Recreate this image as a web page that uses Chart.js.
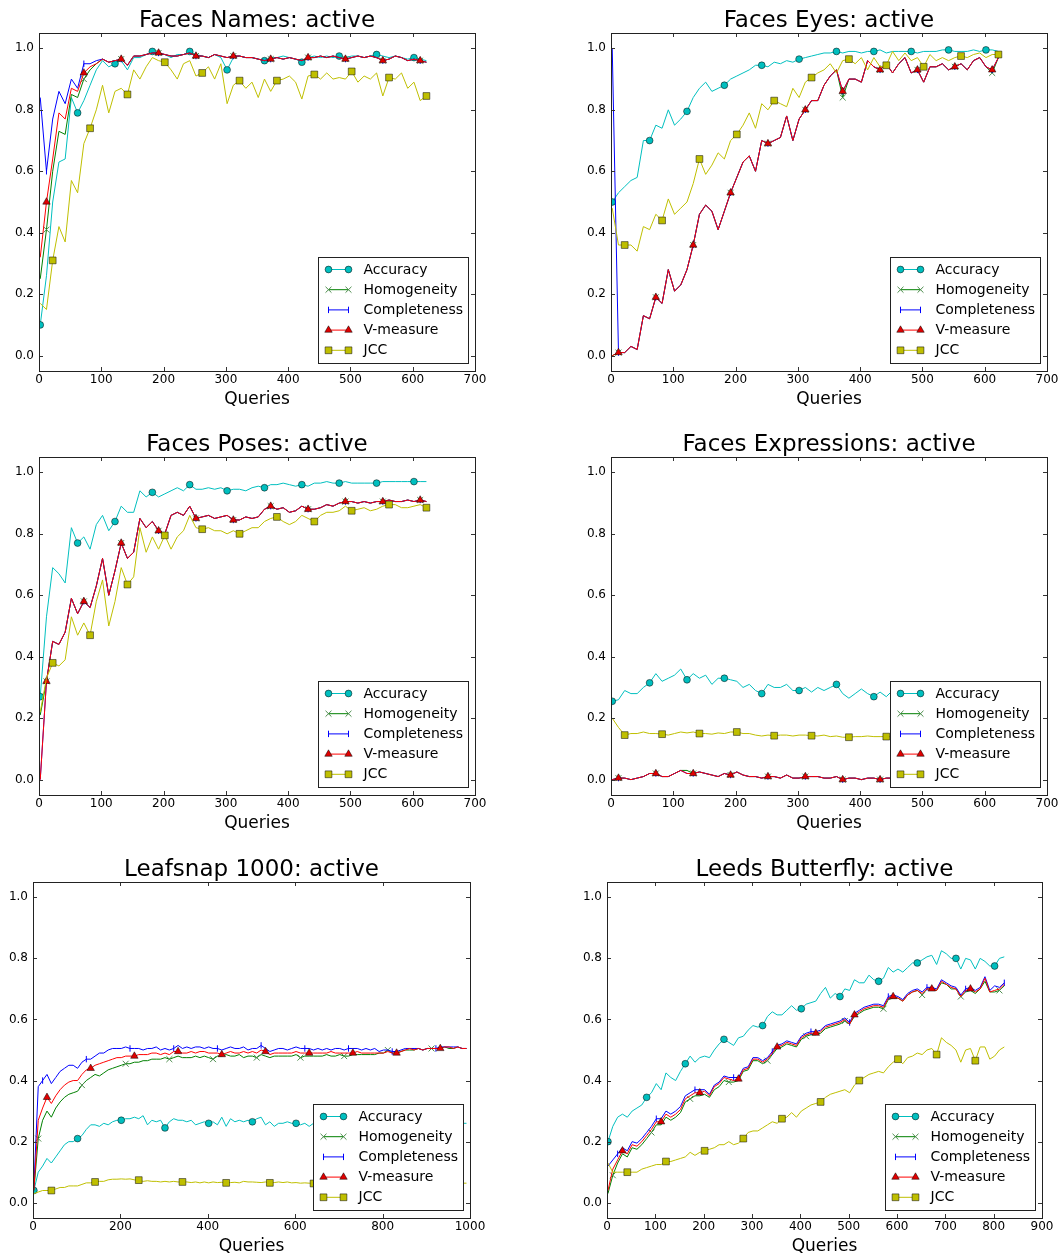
<!DOCTYPE html>
<html>
<head>
<meta charset="utf-8">
<script src="https://cdn.jsdelivr.net/npm/chart.js@4.4.0/dist/chart.umd.min.js"></script>
<style>
html,body{margin:0;padding:0;background:#fff;overflow:hidden;width:1061px;height:1260px;}
canvas{position:absolute;}
</style>
</head>
<body>
<canvas id="c1"></canvas>
<canvas id="c2"></canvas>
<canvas id="c3"></canvas>
<canvas id="c4"></canvas>
<canvas id="c5"></canvas>
<canvas id="c6"></canvas>
<script>
// ---------- categories / ticks ----------
const SERIES_NAMES = ['Accuracy', 'Homogeneity', 'Completeness', 'V-measure', 'JCC'];
const Y_TICKS = [0.0, 0.2, 0.4, 0.6, 0.8, 1.0];
const X_TICKS_700 = [0, 100, 200, 300, 400, 500, 600, 700];
const X_TICKS_1000 = [0, 200, 400, 600, 800, 1000];
const X_TICKS_900 = [0, 100, 200, 300, 400, 500, 600, 700, 800, 900];

// queries (x values)
const Q_FACES = [2,12,22,32,42,52,62,72,82,92,102,112,122,132,142,152,162,172,182,192,
  202,212,222,232,242,252,262,272,282,292,302,312,322,332,342,352,362,372,382,392,
  402,412,422,432,442,452,462,472,482,492,502,512,522,532,542,552,562,572,582,592,
  602,612,622];
const Q_LEAF = [2,12,22,32,42,52,62,72,82,92,102,112,122,132,142,152,162,172,182,192,
  202,212,222,232,242,252,262,272,282,292,302,312,322,332,342,352,362,372,382,392,
  402,412,422,432,442,452,462,472,482,492,502,512,522,532,542,552,562,572,582,592,
  602,612,622,632,642,652,662,672,682,692,702,712,722,732,742,752,762,772,782,792,
  802,812,822,832,842,852,862,872,882,892,902,912,922,932,942,952,962,972,982,992];
const Q_BUTTERFLY = [2,12,22,32,42,52,62,72,82,92,102,112,122,132,142,152,162,172,182,192,
  202,212,222,232,242,252,262,272,282,292,302,312,322,332,342,352,362,372,382,392,
  402,412,422,432,442,452,462,472,482,492,502,512,522,532,542,552,562,572,582,592,
  602,612,622,632,642,652,662,672,682,692,702,712,722,732,742,752,762,772,782,792,
  802,812,822];

// ---------- Faces Names ----------
const namesAcc = [0.10,0.26,0.50,0.63,0.64,0.84,0.79,0.83,0.88,0.93,
  0.96,0.94,0.95,0.96,0.93,0.97,0.97,0.98,0.99,0.98,
  0.98,0.97,0.98,0.98,0.99,0.98,0.975,0.97,0.98,0.97,
  0.93,0.97,0.975,0.97,0.97,0.965,0.96,0.97,0.97,0.975,
  0.97,0.965,0.955,0.97,0.975,0.97,0.975,0.97,0.975,0.97,
  0.975,0.975,0.97,0.975,0.98,0.975,0.97,0.975,0.97,0.965,
  0.97,0.965,0.96];
const namesHom = [0.25,0.41,0.60,0.73,0.72,0.85,0.84,0.90,0.93,0.95,
  0.965,0.955,0.96,0.965,0.945,0.975,0.975,0.98,0.985,0.985,
  0.98,0.975,0.975,0.98,0.985,0.975,0.975,0.97,0.98,0.975,
  0.97,0.975,0.975,0.97,0.97,0.965,0.96,0.965,0.97,0.965,
  0.97,0.965,0.96,0.97,0.97,0.975,0.97,0.975,0.97,0.965,
  0.97,0.975,0.97,0.975,0.97,0.96,0.965,0.975,0.97,0.96,
  0.965,0.96,0.955];
const namesCom = [0.84,0.60,0.77,0.86,0.82,0.90,0.87,0.95,0.95,0.96,
  0.965,0.955,0.96,0.965,0.945,0.975,0.975,0.98,0.985,0.985,
  0.98,0.975,0.975,0.98,0.985,0.975,0.975,0.97,0.98,0.975,
  0.97,0.975,0.975,0.97,0.97,0.965,0.96,0.965,0.97,0.965,
  0.97,0.965,0.96,0.97,0.97,0.975,0.97,0.975,0.97,0.965,
  0.97,0.975,0.97,0.975,0.97,0.96,0.965,0.975,0.97,0.96,
  0.965,0.96,0.955];
const namesVm = [0.32,0.50,0.64,0.79,0.77,0.87,0.86,0.92,0.94,0.95,
  0.965,0.955,0.96,0.965,0.945,0.975,0.975,0.98,0.985,0.985,
  0.98,0.975,0.975,0.98,0.985,0.975,0.975,0.97,0.98,0.975,
  0.97,0.975,0.975,0.97,0.97,0.965,0.96,0.965,0.97,0.965,
  0.97,0.965,0.96,0.97,0.97,0.975,0.97,0.975,0.97,0.965,
  0.97,0.975,0.97,0.975,0.97,0.96,0.965,0.975,0.97,0.96,
  0.965,0.96,0.955];
const namesJcc = [0.17,0.15,0.31,0.42,0.37,0.57,0.53,0.69,0.74,0.80,
  0.88,0.79,0.86,0.87,0.85,0.93,0.90,0.94,0.97,0.96,
  0.955,0.93,0.90,0.95,0.96,0.91,0.92,0.94,0.90,0.95,
  0.82,0.88,0.895,0.87,0.89,0.84,0.90,0.86,0.895,0.90,
  0.91,0.89,0.835,0.91,0.915,0.90,0.92,0.90,0.905,0.90,
  0.925,0.89,0.91,0.90,0.92,0.845,0.905,0.90,0.92,0.87,
  0.89,0.83,0.845];

// ---------- Faces Eyes ----------
const eyesAcc = [0.50,0.53,0.55,0.57,0.58,0.70,0.70,0.75,0.74,0.80,
  0.75,0.77,0.795,0.84,0.87,0.89,0.86,0.87,0.88,0.90,
  0.91,0.92,0.93,0.945,0.945,0.94,0.955,0.95,0.96,0.955,
  0.965,0.97,0.975,0.98,0.985,0.985,0.99,0.985,0.99,0.99,
  0.985,0.99,0.99,0.995,0.985,0.99,0.99,0.99,0.99,0.985,
  0.99,0.99,0.99,0.995,0.995,0.99,0.99,0.99,0.995,0.99,
  0.995,0.995,0.99];
const eyesHom = [0.00,0.01,0.01,0.03,0.02,0.13,0.12,0.19,0.17,0.28,
  0.21,0.23,0.28,0.36,0.46,0.49,0.47,0.41,0.47,0.53,
  0.58,0.63,0.65,0.60,0.70,0.69,0.70,0.71,0.78,0.70,
  0.77,0.80,0.83,0.83,0.88,0.91,0.93,0.84,0.90,0.90,
  0.89,0.96,0.94,0.93,0.95,0.92,0.95,0.97,0.92,0.93,
  0.89,0.94,0.94,0.95,0.93,0.94,0.95,0.93,0.96,0.97,
  0.94,0.92,0.97];
const eyesCom = [1.00,0.01,0.01,0.03,0.02,0.13,0.12,0.19,0.17,0.28,
  0.21,0.23,0.28,0.36,0.46,0.49,0.47,0.41,0.47,0.53,
  0.58,0.63,0.65,0.60,0.70,0.69,0.70,0.71,0.78,0.70,
  0.77,0.80,0.83,0.83,0.88,0.91,0.93,0.86,0.90,0.90,
  0.89,0.96,0.94,0.93,0.95,0.92,0.95,0.97,0.92,0.93,
  0.89,0.94,0.94,0.95,0.93,0.94,0.95,0.93,0.96,0.97,
  0.94,0.93,0.97];
const eyesVm = [0.00,0.01,0.01,0.03,0.02,0.13,0.12,0.19,0.17,0.28,
  0.21,0.23,0.28,0.36,0.46,0.49,0.47,0.41,0.47,0.53,
  0.58,0.63,0.65,0.60,0.70,0.69,0.70,0.71,0.78,0.70,
  0.77,0.80,0.83,0.83,0.88,0.91,0.93,0.86,0.90,0.90,
  0.89,0.96,0.94,0.93,0.95,0.92,0.95,0.97,0.92,0.93,
  0.89,0.94,0.94,0.95,0.93,0.94,0.95,0.93,0.96,0.97,
  0.94,0.93,0.97];
const eyesJcc = [0.48,0.36,0.36,0.36,0.34,0.42,0.41,0.46,0.44,0.51,
  0.46,0.48,0.50,0.56,0.64,0.59,0.62,0.66,0.64,0.70,
  0.72,0.75,0.79,0.74,0.82,0.80,0.83,0.82,0.81,0.87,
  0.84,0.89,0.905,0.92,0.93,0.95,0.92,0.96,0.965,0.95,
  0.97,0.93,0.97,0.94,0.945,0.99,0.96,0.985,0.96,0.97,
  0.94,0.98,0.96,0.97,0.96,0.97,0.975,0.97,0.98,0.985,
  0.97,0.98,0.98];

// ---------- Faces Poses ----------
const posesAcc = [0.27,0.53,0.69,0.67,0.64,0.82,0.77,0.79,0.75,0.83,
  0.86,0.81,0.84,0.89,0.87,0.87,0.94,0.92,0.935,0.92,
  0.93,0.94,0.95,0.94,0.96,0.945,0.945,0.95,0.945,0.95,
  0.94,0.945,0.945,0.94,0.95,0.955,0.95,0.96,0.96,0.965,
  0.96,0.955,0.96,0.955,0.965,0.965,0.97,0.965,0.965,0.97,
  0.965,0.965,0.965,0.965,0.965,0.97,0.97,0.97,0.97,0.97,
  0.97,0.97,0.97];
const posesHom = [0.21,0.32,0.45,0.44,0.48,0.59,0.54,0.58,0.56,0.63,
  0.72,0.60,0.68,0.77,0.72,0.74,0.85,0.82,0.84,0.81,
  0.80,0.86,0.87,0.86,0.89,0.85,0.855,0.86,0.85,0.855,
  0.86,0.845,0.845,0.855,0.85,0.855,0.88,0.89,0.88,0.885,
  0.87,0.875,0.89,0.88,0.88,0.885,0.895,0.89,0.90,0.905,
  0.905,0.90,0.905,0.90,0.905,0.905,0.91,0.905,0.905,0.91,
  0.905,0.91,0.905];
const posesCom = [0.00,0.32,0.45,0.44,0.48,0.59,0.54,0.58,0.56,0.63,
  0.72,0.60,0.68,0.77,0.72,0.74,0.85,0.82,0.84,0.81,
  0.80,0.86,0.87,0.86,0.89,0.85,0.855,0.86,0.85,0.855,
  0.86,0.845,0.845,0.855,0.85,0.855,0.88,0.89,0.88,0.885,
  0.87,0.875,0.89,0.88,0.88,0.885,0.895,0.89,0.90,0.905,
  0.905,0.90,0.905,0.90,0.905,0.905,0.91,0.905,0.905,0.91,
  0.905,0.91,0.905];
const posesVm = [0.00,0.32,0.45,0.44,0.48,0.59,0.54,0.58,0.56,0.63,
  0.72,0.60,0.68,0.77,0.72,0.74,0.85,0.82,0.84,0.81,
  0.80,0.86,0.87,0.86,0.89,0.85,0.855,0.86,0.85,0.855,
  0.86,0.845,0.845,0.855,0.85,0.855,0.88,0.89,0.88,0.885,
  0.87,0.875,0.89,0.88,0.88,0.885,0.895,0.89,0.90,0.905,
  0.905,0.90,0.905,0.90,0.905,0.905,0.91,0.905,0.905,0.91,
  0.905,0.91,0.905];
const posesJcc = [0.22,0.33,0.38,0.37,0.39,0.53,0.47,0.51,0.47,0.58,
  0.65,0.50,0.58,0.69,0.635,0.66,0.82,0.74,0.79,0.75,
  0.795,0.75,0.79,0.81,0.86,0.82,0.815,0.82,0.81,0.81,
  0.80,0.81,0.80,0.81,0.82,0.82,0.84,0.85,0.855,0.84,
  0.83,0.84,0.86,0.85,0.84,0.86,0.87,0.87,0.875,0.89,
  0.875,0.88,0.885,0.875,0.88,0.89,0.895,0.895,0.885,0.885,
  0.89,0.895,0.885];

// ---------- Faces Expressions ----------
const exprAcc = [0.255,0.26,0.29,0.28,0.28,0.30,0.315,0.345,0.32,0.33,
  0.34,0.36,0.325,0.345,0.33,0.34,0.31,0.33,0.33,0.325,
  0.32,0.30,0.31,0.29,0.28,0.31,0.30,0.30,0.31,0.29,
  0.29,0.30,0.285,0.30,0.29,0.30,0.31,0.28,0.265,0.28,
  0.295,0.28,0.27,0.285,0.27,0.29,0.28,0.285,0.28,0.28,
  0.285,0.28,0.28,0.285,0.28,0.28,0.275,0.28,0.28,0.275,
  0.28,0.28,0.28];
const exprHom = [0.00,0.005,0.005,0.00,0.005,0.01,0.02,0.02,0.01,0.01,
  0.02,0.03,0.03,0.02,0.025,0.02,0.015,0.01,0.02,0.015,
  0.025,0.015,0.01,0.01,0.005,0.01,0.01,0.005,0.015,0.005,
  0.005,0.01,0.01,0.01,0.005,0.005,0.01,0.00,0.005,0.005,
  0.00,0.005,0.005,0.00,0.005,0.005,0.005,0.005,0.005,0.005,
  0.005,0.005,0.005,0.005,0.005,0.005,0.005,0.005,0.005,0.005,
  0.005,0.005,0.005];
const exprCom = [0.00,0.005,0.005,0.00,0.005,0.01,0.02,0.02,0.01,0.01,
  0.02,0.03,0.02,0.02,0.025,0.02,0.015,0.01,0.02,0.015,
  0.025,0.015,0.01,0.01,0.005,0.01,0.01,0.005,0.015,0.005,
  0.005,0.01,0.01,0.01,0.005,0.005,0.01,0.00,0.005,0.005,
  0.00,0.005,0.005,0.00,0.005,0.005,0.005,0.005,0.005,0.005,
  0.005,0.005,0.005,0.005,0.005,0.005,0.005,0.005,0.005,0.005,
  0.005,0.005,0.005];
const exprVm = [0.00,0.005,0.005,0.00,0.005,0.01,0.02,0.02,0.01,0.01,
  0.02,0.03,0.02,0.02,0.025,0.02,0.015,0.01,0.02,0.015,
  0.025,0.015,0.01,0.01,0.005,0.01,0.01,0.005,0.015,0.005,
  0.005,0.01,0.01,0.01,0.005,0.005,0.01,0.00,0.005,0.005,
  0.00,0.005,0.005,0.00,0.005,0.005,0.005,0.005,0.005,0.005,
  0.005,0.005,0.005,0.005,0.005,0.005,0.005,0.005,0.005,0.005,
  0.005,0.005,0.005];
const exprJcc = [0.20,0.17,0.145,0.15,0.15,0.155,0.15,0.15,0.148,0.145,
  0.15,0.155,0.152,0.155,0.15,0.15,0.148,0.152,0.15,0.155,
  0.155,0.15,0.15,0.145,0.142,0.145,0.143,0.145,0.145,0.142,
  0.145,0.145,0.143,0.142,0.145,0.14,0.142,0.138,0.138,0.14,
  0.14,0.142,0.14,0.14,0.14,0.14,0.14,0.14,0.14,0.14,
  0.14,0.14,0.14,0.14,0.14,0.14,0.14,0.14,0.14,0.14,
  0.14,0.14,0.14];

// ---------- Leafsnap 1000 ----------
const leafAcc = [0.04,0.10,0.12,0.145,0.13,0.15,0.17,0.19,0.20,0.20,
  0.21,0.22,0.24,0.255,0.255,0.25,0.26,0.255,0.265,0.27,
  0.27,0.275,0.275,0.28,0.275,0.285,0.255,0.27,0.265,0.27,
  0.245,0.265,0.275,0.27,0.27,0.265,0.27,0.255,0.26,0.265,
  0.26,0.265,0.255,0.28,0.25,0.275,0.265,0.27,0.265,0.27,
  0.265,0.275,0.28,0.255,0.265,0.25,0.26,0.26,0.265,0.26,
  0.26,0.255,0.26,0.25,0.26,0.26,0.255,0.26,0.26,0.255,
  0.26,0.26,0.255,0.26,0.26,0.255,0.26,0.26,0.255,0.26,
  0.26,0.255,0.26,0.26,0.255,0.26,0.26,0.255,0.26,0.26,
  0.26,0.26,0.255,0.26,0.26,0.26,0.255,0.26,0.26,0.26];
const leafHom = [0.04,0.21,0.27,0.30,0.28,0.31,0.33,0.345,0.355,0.36,
  0.365,0.385,0.40,0.41,0.42,0.415,0.425,0.435,0.44,0.445,
  0.45,0.455,0.455,0.46,0.46,0.465,0.465,0.47,0.47,0.47,
  0.475,0.47,0.475,0.48,0.475,0.475,0.475,0.48,0.475,0.48,
  0.475,0.47,0.48,0.48,0.485,0.48,0.48,0.485,0.475,0.48,
  0.48,0.475,0.485,0.48,0.475,0.48,0.48,0.48,0.48,0.48,
  0.485,0.475,0.48,0.48,0.48,0.48,0.48,0.485,0.48,0.48,
  0.485,0.48,0.48,0.485,0.485,0.485,0.485,0.485,0.485,0.49,
  0.49,0.50,0.49,0.49,0.495,0.50,0.50,0.50,0.505,0.50,
  0.505,0.505,0.505,0.505,0.51,0.505,0.505,0.51,0.505,0.505];
const leafCom = [0.05,0.38,0.40,0.42,0.39,0.41,0.43,0.44,0.45,0.45,
  0.44,0.46,0.47,0.47,0.48,0.49,0.49,0.50,0.505,0.505,
  0.505,0.51,0.505,0.505,0.505,0.50,0.505,0.505,0.51,0.50,
  0.505,0.50,0.505,0.515,0.505,0.51,0.505,0.51,0.51,0.505,
  0.51,0.505,0.505,0.50,0.505,0.51,0.505,0.505,0.51,0.50,
  0.505,0.505,0.515,0.505,0.495,0.50,0.505,0.505,0.50,0.505,
  0.51,0.505,0.505,0.505,0.50,0.505,0.50,0.505,0.50,0.505,
  0.505,0.50,0.505,0.505,0.505,0.50,0.505,0.50,0.505,0.495,
  0.50,0.50,0.495,0.495,0.50,0.505,0.505,0.505,0.505,0.50,
  0.505,0.505,0.505,0.51,0.51,0.51,0.51,0.51,0.505,0.505];
const leafVm = [0.04,0.27,0.31,0.345,0.325,0.35,0.37,0.385,0.395,0.40,
  0.40,0.42,0.435,0.44,0.45,0.455,0.46,0.465,0.47,0.475,
  0.475,0.48,0.48,0.48,0.485,0.485,0.485,0.49,0.49,0.485,
  0.49,0.485,0.495,0.495,0.49,0.49,0.495,0.49,0.495,0.495,
  0.49,0.49,0.49,0.485,0.49,0.495,0.49,0.49,0.495,0.49,
  0.495,0.49,0.50,0.495,0.485,0.49,0.49,0.49,0.49,0.49,
  0.495,0.49,0.49,0.49,0.49,0.49,0.49,0.49,0.495,0.49,
  0.49,0.49,0.49,0.49,0.495,0.49,0.49,0.49,0.49,0.49,
  0.49,0.495,0.49,0.49,0.495,0.50,0.505,0.50,0.505,0.50,
  0.505,0.505,0.505,0.505,0.51,0.51,0.505,0.51,0.505,0.505];
const leafJcc = [0.03,0.035,0.04,0.04,0.04,0.045,0.05,0.05,0.055,0.055,
  0.055,0.06,0.065,0.065,0.068,0.07,0.07,0.075,0.077,0.077,
  0.078,0.077,0.078,0.075,0.074,0.07,0.072,0.07,0.07,0.068,
  0.07,0.068,0.07,0.068,0.068,0.068,0.066,0.068,0.065,0.068,
  0.065,0.068,0.066,0.067,0.065,0.066,0.067,0.065,0.07,0.068,
  0.068,0.067,0.066,0.068,0.065,0.066,0.068,0.066,0.068,0.065,
  0.066,0.064,0.065,0.064,0.063,0.064,0.064,0.064,0.064,0.064,
  0.064,0.064,0.064,0.064,0.064,0.064,0.064,0.064,0.064,0.064,
  0.064,0.064,0.064,0.064,0.064,0.064,0.064,0.064,0.064,0.064,
  0.064,0.064,0.064,0.064,0.064,0.064,0.064,0.064,0.064,0.064];

// ---------- Leeds Butterfly ----------
const buttAcc = [0.20,0.25,0.28,0.29,0.28,0.30,0.31,0.32,0.345,0.36,
  0.39,0.37,0.425,0.41,0.40,0.43,0.455,0.48,0.46,0.475,
  0.48,0.475,0.50,0.52,0.535,0.525,0.515,0.54,0.545,0.565,
  0.58,0.575,0.58,0.61,0.625,0.615,0.615,0.63,0.645,0.63,
  0.635,0.65,0.655,0.66,0.685,0.705,0.67,0.685,0.675,0.70,
  0.695,0.73,0.72,0.72,0.745,0.73,0.725,0.735,0.77,0.755,
  0.765,0.755,0.77,0.785,0.785,0.795,0.805,0.81,0.78,0.825,
  0.815,0.80,0.80,0.765,0.80,0.795,0.765,0.80,0.79,0.775,
  0.775,0.80,0.805];
const buttHom = [0.03,0.09,0.13,0.16,0.15,0.18,0.175,0.19,0.21,0.23,
  0.255,0.255,0.28,0.27,0.28,0.295,0.33,0.34,0.35,0.35,
  0.355,0.345,0.37,0.38,0.40,0.395,0.395,0.40,0.43,0.435,
  0.465,0.465,0.455,0.465,0.485,0.505,0.51,0.52,0.515,0.51,
  0.535,0.545,0.55,0.55,0.555,0.57,0.575,0.58,0.585,0.595,
  0.585,0.61,0.62,0.63,0.635,0.64,0.64,0.635,0.665,0.67,
  0.67,0.66,0.68,0.69,0.695,0.68,0.70,0.70,0.695,0.72,
  0.715,0.70,0.70,0.675,0.69,0.695,0.685,0.70,0.725,0.69,
  0.69,0.695,0.71];
const buttCom = [0.12,0.14,0.16,0.18,0.17,0.20,0.195,0.21,0.23,0.25,
  0.275,0.275,0.30,0.29,0.30,0.315,0.35,0.36,0.37,0.37,
  0.37,0.355,0.385,0.395,0.415,0.41,0.41,0.41,0.44,0.445,
  0.475,0.475,0.465,0.475,0.495,0.515,0.52,0.53,0.525,0.52,
  0.545,0.555,0.56,0.56,0.565,0.58,0.585,0.59,0.595,0.605,
  0.59,0.62,0.63,0.64,0.645,0.65,0.65,0.645,0.675,0.68,
  0.675,0.665,0.685,0.695,0.70,0.69,0.705,0.705,0.70,0.73,
  0.72,0.71,0.705,0.68,0.70,0.705,0.695,0.705,0.74,0.695,
  0.71,0.705,0.72];
const buttVm = [0.04,0.11,0.14,0.17,0.16,0.19,0.185,0.20,0.22,0.24,
  0.265,0.265,0.29,0.28,0.29,0.305,0.34,0.35,0.36,0.36,
  0.365,0.35,0.38,0.39,0.41,0.405,0.40,0.405,0.435,0.44,
  0.47,0.47,0.46,0.47,0.49,0.51,0.515,0.525,0.52,0.515,
  0.54,0.55,0.555,0.555,0.56,0.575,0.58,0.585,0.59,0.60,
  0.585,0.615,0.625,0.635,0.64,0.645,0.645,0.64,0.67,0.675,
  0.67,0.66,0.68,0.69,0.695,0.685,0.70,0.70,0.695,0.725,
  0.715,0.705,0.70,0.675,0.695,0.70,0.69,0.70,0.735,0.69,
  0.695,0.70,0.715];
const buttJcc = [0.13,0.10,0.10,0.10,0.10,0.10,0.10,0.11,0.115,0.12,
  0.125,0.125,0.135,0.135,0.14,0.145,0.15,0.165,0.155,0.165,
  0.17,0.175,0.18,0.19,0.19,0.20,0.19,0.195,0.21,0.23,
  0.235,0.235,0.245,0.255,0.265,0.26,0.275,0.28,0.295,0.28,
  0.30,0.31,0.32,0.325,0.33,0.345,0.355,0.36,0.365,0.37,
  0.36,0.385,0.40,0.41,0.42,0.425,0.43,0.425,0.445,0.46,
  0.47,0.455,0.475,0.48,0.49,0.485,0.50,0.505,0.485,0.54,
  0.525,0.515,0.50,0.46,0.50,0.505,0.465,0.51,0.51,0.47,
  0.48,0.50,0.51];

// ---------- styling ----------
const FONT = 'DejaVu Sans';
Chart.defaults.font.family = FONT;
Chart.defaults.color = '#000';

const STYLES = [
  {color:'#00BFBF', style:'circle',   r:3.4, rot:0,  fill:'#00BFBF', edge:'#000',    bw:0.5, order:5},
  {color:'#008000', style:'crossRot', r:4.2, rot:0,  fill:'#008000', edge:'#4c8c4c', bw:1,   order:4},
  {color:'#0000FF', style:'line',     r:3.2, rot:90, fill:'#0000FF', edge:'#0000FF', bw:1,   order:3},
  {color:'#FF0000', style:'triangle', r:4.3, rot:0,  fill:'#E00000', edge:'#000',    bw:0.5, order:2},
  {color:'#BFBF00', style:'rect',     r:4.8, rot:0,  fill:'#BFBF00', edge:'#000',    bw:0.5, order:1}
];

const PANELS = [
  {id:'c1', title:'Faces Names: active', left:0,   top:0,   w:495, h:410, yW:39, rp:20, xmax:700,  xt:X_TICKS_700,  q:Q_FACES,
   series:[namesAcc,namesHom,namesCom,namesVm,namesJcc], every:6, offs:[0,1,1,1,2]},
  {id:'c2', title:'Faces Eyes: active', left:572, top:0,   w:489, h:410, yW:39, rp:14, xmax:700,  xt:X_TICKS_700,  q:Q_FACES,
   series:[eyesAcc,eyesHom,eyesCom,eyesVm,eyesJcc], every:6, offs:[0,1,1,1,2]},
  {id:'c3', title:'Faces Poses: active', left:0,   top:424, w:495, h:410, yW:39, rp:20, xmax:700,  xt:X_TICKS_700,  q:Q_FACES,
   series:[posesAcc,posesHom,posesCom,posesVm,posesJcc], every:6, offs:[0,1,1,1,2]},
  {id:'c4', title:'Faces Expressions: active', left:572, top:424, w:489, h:410, yW:39, rp:14, xmax:700, xt:X_TICKS_700, q:Q_FACES,
   series:[exprAcc,exprHom,exprCom,exprVm,exprJcc], every:6, offs:[0,1,1,1,2]},
  {id:'c5', title:'Leafsnap 1000: active', left:0, top:849, w:490, h:408, yW:33, rp:20, xmax:1000, xt:X_TICKS_1000, q:Q_LEAF,
   series:[leafAcc,leafHom,leafCom,leafVm,leafJcc], every:10, offs:[0,1,2,3,4]},
  {id:'c6', title:'Leeds Butterfly: active', left:568, top:849, w:493, h:408, yW:39, rp:19, xmax:900, xt:X_TICKS_900, q:Q_BUTTERFLY,
   series:[buttAcc,buttHom,buttCom,buttVm,buttJcc], every:8, offs:[0,1,2,3,4]}
];

function drawMarker(ctx, s, x, y) {
  ctx.save();
  ctx.beginPath();
  const r = s.r;
  if (s.style === 'circle') {
    ctx.arc(x, y, r, 0, Math.PI * 2);
  } else if (s.style === 'triangle') {
    let a = 0; const T = 2 * Math.PI / 3;
    ctx.moveTo(x + Math.sin(a) * r, y - Math.cos(a) * r); a += T;
    ctx.lineTo(x + Math.sin(a) * r, y - Math.cos(a) * r); a += T;
    ctx.lineTo(x + Math.sin(a) * r, y - Math.cos(a) * r);
    ctx.closePath();
  } else if (s.style === 'rect') {
    const h = r * Math.SQRT1_2; ctx.rect(x - h, y - h, 2 * h, 2 * h);
  } else if (s.style === 'crossRot') {
    const h = r * Math.SQRT1_2;
    ctx.moveTo(x - h, y - h); ctx.lineTo(x + h, y + h);
    ctx.moveTo(x - h, y + h); ctx.lineTo(x + h, y - h);
  } else if (s.style === 'line') {
    ctx.moveTo(x, y - r); ctx.lineTo(x, y + r);
  }
  if (s.style === 'circle' || s.style === 'triangle' || s.style === 'rect') {
    ctx.fillStyle = s.fill; ctx.fill();
  }
  ctx.lineWidth = s.bw; ctx.strokeStyle = s.edge; ctx.stroke();
  ctx.restore();
}

const framePlugin = {
  id: 'mplFrame',
  afterDatasetsDraw(chart) {
    const {ctx, chartArea: a, scales} = chart;
    const xs = scales.x, ys = scales.y;
    ctx.save();
    // inward ticks
    ctx.strokeStyle = '#333'; ctx.lineWidth = 1;
    ctx.beginPath();
    xs.ticks.forEach(t => {
      const px = Math.round(xs.getPixelForValue(t.value)) + 0.5;
      ctx.moveTo(px, a.bottom); ctx.lineTo(px, a.bottom - 4);
      ctx.moveTo(px, a.top); ctx.lineTo(px, a.top + 4);
    });
    ys.ticks.forEach(t => {
      const py = Math.round(ys.getPixelForValue(t.value)) + 0.5;
      ctx.moveTo(a.left, py); ctx.lineTo(a.left + 4, py);
      ctx.moveTo(a.right, py); ctx.lineTo(a.right - 4, py);
    });
    ctx.stroke();
    // frame
    ctx.strokeStyle = '#222'; ctx.lineWidth = 1;
    ctx.strokeRect(Math.round(a.left) + 0.5, Math.round(a.top) + 0.5,
                   Math.round(a.right - a.left), Math.round(a.bottom - a.top));
    // legend
    const bw = 150, bh = 106;
    const bx = Math.round(a.right - 7 - bw) + 0.5;
    const by = Math.round(a.bottom - 8 - bh) + 0.5;
    ctx.fillStyle = '#fff';
    ctx.fillRect(bx, by, bw, bh);
    ctx.strokeStyle = '#222'; ctx.lineWidth = 1;
    ctx.strokeRect(bx, by, bw, bh);
    chart.data.datasets.forEach((ds, i) => {
      const s = ds.mk;
      const yy = by + 12 + i * 20.2;
      ctx.beginPath();
      ctx.strokeStyle = ds.borderColor; ctx.lineWidth = 1;
      ctx.moveTo(bx + 10, yy); ctx.lineTo(bx + 30, yy); ctx.stroke();
      drawMarker(ctx, s, bx + 10, yy);
      drawMarker(ctx, s, bx + 30, yy);
      ctx.fillStyle = '#000';
      ctx.font = '14px "' + FONT + '"';
      ctx.textBaseline = 'middle'; ctx.textAlign = 'left';
      ctx.fillText(ds.label, bx + 45, yy + 0.5);
    });
    ctx.restore();
  }
};

PANELS.forEach(p => {
  const cv = document.getElementById(p.id);
  cv.width = p.w; cv.height = p.h;
  cv.style.left = p.left + 'px'; cv.style.top = p.top + 'px';
  cv.style.width = p.w + 'px'; cv.style.height = p.h + 'px';

  const datasets = p.series.map((vals, si) => {
    const s = STYLES[si];
    const off = p.offs[si], every = p.every;
    return {
      label: SERIES_NAMES[si],
      data: p.q.map((x, i) => ({x: x, y: vals[i]})),
      borderColor: s.color,
      borderWidth: 1,
      backgroundColor: s.fill,
      pointStyle: s.style,
      pointRotation: s.rot,
      pointBackgroundColor: s.fill,
      pointBorderColor: s.edge,
      pointBorderWidth: s.bw,
      pointRadius: ctx => (ctx.dataIndex % every === off ? s.r : 0),
      pointHoverRadius: 0,
      tension: 0,
      fill: false,
      order: s.order,
      mk: s
    };
  });

  new Chart(cv, {
    type: 'line',
    data: {datasets},
    options: {
      animation: false,
      responsive: false,
      devicePixelRatio: 1,
      parsing: false,
      events: [],
      layout: {padding: {left: 0, right: p.rp, top: 0, bottom: 0}},
      plugins: {
        legend: {display: false},
        tooltip: {enabled: false},
        title: {
          display: true, text: p.title, fullSize: false, color: '#000',
          font: {family: FONT, size: 23, weight: 'normal', lineHeight: 1},
          padding: {top: 10, bottom: 0}
        }
      },
      scales: {
        x: {
          type: 'linear', min: 0, max: p.xmax,
          afterBuildTicks: sc => { sc.ticks = p.xt.map(v => ({value: v})); },
          afterFit: sc => { sc.height = 39; },
          ticks: {font: {family: FONT, size: 12}, color: '#000', padding: 2, autoSkip: false, maxRotation: 0,
                  callback: v => String(v)},
          grid: {display: false, drawTicks: false},
          border: {display: false},
          title: {display: true, text: 'Queries', color: '#000', font: {family: FONT, size: 17}, padding: 0}
        },
        y: {
          type: 'linear', min: -0.05, max: 1.05,
          afterBuildTicks: sc => { sc.ticks = Y_TICKS.map(v => ({value: v})); },
          afterFit: sc => { sc.width = p.yW; },
          ticks: {font: {family: FONT, size: 12}, color: '#000', padding: 5, autoSkip: false,
                  callback: v => Number(v).toFixed(1)},
          grid: {display: false, drawTicks: false},
          border: {display: false}
        }
      }
    },
    plugins: [framePlugin]
  });
});
</script>
</body>
</html>
